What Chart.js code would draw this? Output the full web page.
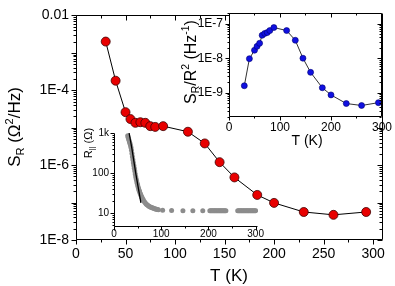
<!DOCTYPE html>
<html>
<head>
<meta charset="utf-8">
<script src="https://cdn.jsdelivr.net/npm/chart.js@4/dist/chart.umd.min.js"></script>
<style>
body { margin: 0; background: #fff; }
#wrap { position: relative; width: 395px; height: 286px; }
canvas { position: absolute; left: 0; top: 0; }
</style>
</head>
<body>
<div id="wrap">
<canvas id="mainChart" width="395" height="286"></canvas>
<canvas id="resChart" width="395" height="286"></canvas>
<canvas id="normChart" width="395" height="286"></canvas>
</div>
<script>
// temperatures (K), same for main plot and top inset
const tempK = [30, 40, 50, 55, 60, 65, 70, 75, 80, 88, 113, 130, 145, 160, 183, 200, 230, 260, 293];
// S_R (Ohm^2/Hz)
const noiseSR = [2.0e-3, 1.8e-4, 2.6e-5, 1.7e-5, 1.35e-5, 1.4e-5, 1.35e-5, 1.1e-5, 1.05e-5, 1.1e-5,
                 7.8e-6, 3.8e-6, 1.2e-6, 4.7e-7, 1.6e-7, 9.8e-8, 5.6e-8, 4.7e-8, 5.6e-8];
// S_R/R^2 (1/Hz), top inset
const normSR = [1.6e-9, 9.7e-9, 1.7e-8, 2.2e-8, 2.7e-8, 4.6e-8, 5.2e-8, 5.5e-8, 6.3e-8, 7.7e-8,
                6.3e-8, 3.3e-8, 1.0e-8, 3.9e-9, 1.4e-9, 8.7e-10, 4.9e-10, 4.3e-10, 5.2e-10];

// R_|| (Ohm) vs T, bottom inset (grey points)
const resT = [29, 30, 31, 32, 33, 34, 35, 36, 37, 38, 39, 40, 41, 42, 43, 44, 45, 46, 47, 48, 49, 50,
              51, 52, 53, 54, 55, 56, 57, 58, 59, 60, 62, 64, 66, 68, 70, 72, 74, 76, 78, 80, 82, 84,
              86, 88, 90, 92, 94,
              103, 122, 146, 167, 188,
              203, 205, 207, 209, 211, 213, 215, 217, 219, 221, 223, 225, 227, 229, 231, 233, 235, 237,
              262, 264, 266, 268, 270, 272, 274, 276, 278, 280, 282, 284, 286, 288, 290, 292, 294, 296, 298, 300];
const resR = [851, 776, 708, 646, 589, 537, 490, 437, 372, 309, 257, 214, 182, 155, 132, 112, 95, 81, 71, 63, 56, 50,
              45, 41, 37, 35, 32, 30, 28, 26, 24.5, 23.4, 21.4, 19.5, 18.2, 17, 16.2, 15.5, 14.8, 14.4, 14.1, 13.8, 13.5, 13.2,
              12.9, 12.6, 12.4, 12.3, 12.2,
              11.8, 11.6, 11.5, 11.5, 11.5,
              11.5, 11.5, 11.5, 11.5, 11.5, 11.5, 11.5, 11.5, 11.5, 11.5, 11.5, 11.5, 11.5, 11.5, 11.5, 11.5, 11.5, 11.5,
              11.5, 11.5, 11.5, 11.5, 11.5, 11.5, 11.5, 11.5, 11.5, 11.5, 11.5, 11.5, 11.5, 11.5, 11.5, 11.5, 11.5, 11.5, 11.5, 11.5];
// fit curve over the steep part
const fitT = [32, 38, 46, 57];
const fitR = [1000, 400, 100, 18];

// tick labels
const mainXTicks = [0, 50, 100, 150, 200, 250, 300];
const mainXLabels = ['0', '50', '100', '150', '200', '250', '300'];
const mainYTicks = [1e-8, 1e-6, 1e-4, 1e-2];
const mainYLabels = ['1E-8', '1E-6', '1E-4', '0.01'];
const normXTicks = [0, 100, 200, 300];
const normXLabels = ['0', '100', '200', '300'];
const normYTicks = [1e-9, 1e-8, 1e-7];
const normYLabels = ['1E-9', '1E-8', '1E-7'];
const resXTicks = [0, 100, 200, 300];
const resXLabels = ['0', '100', '200', '300'];
const resYTicks = [10, 100, 1000];
const resYLabels = ['10', '100', '1k'];

const FONT = "'Liberation Sans', Arial, Helvetica, sans-serif";

function logMinors(lo, hi) {
    const out = [];
    for (let n = -11; n <= 4; n++) {
        for (let k = 2; k <= 9; k++) {
            const v = k * Math.pow(10, n);
            if (v >= lo && v <= hi) out.push(v);
        }
    }
    return out;
}
function logMajors(lo, hi) {
    const out = [];
    for (let n = -11; n <= 4; n++) {
        const v = Math.pow(10, n);
        if (v >= lo * 0.999 && v <= hi * 1.001) out.push(v);
    }
    return out;
}

// frame, tick marks and rich-text titles for each chart
const decor = {
    mainChart: {
        box: true, fill: false, major: 5, minor: 3,
        xMajor: [0, 50, 100, 150, 200, 250, 300], xMinor: [25, 75, 125, 175, 225, 275],
        yMajor: logMajors(1e-8, 1e-2), yMinor: logMinors(1e-8, 1e-2),
        titles: [
            { x: 14, y: 127, rot: true, size: 17, segs: [['S', 0], ['R', -1], [' (\u03A9', 0], ['2', 1], ['/Hz)', 0]] },
            { x: 229, y: 275, rot: false, size: 17, segs: [['T (K)', 0]] }
        ]
    },
    normChart: {
        box: true, fill: true, major: 4, minor: 2,
        xMajor: [0, 100, 200, 300], xMinor: [50, 150, 250],
        yMajor: logMajors(2e-10, 2e-7), yMinor: logMinors(2e-10, 2e-7),
        titles: [
            { x: 190, y: 62, rot: true, size: 16, segs: [['S', 0], ['R', -1], ['/R', 0], ['2', 1], [' (Hz', 0], ['-1', 1], [')', 0]] },
            { x: 307, y: 140, rot: false, size: 14, segs: [['T (K)', 0]] }
        ]
    },
    resChart: {
        box: false, fill: false, major: 4, minor: 2,
        xMajor: [0, 100, 200, 300], xMinor: [50, 150, 250],
        yMajor: logMajors(4.5, 1000), yMinor: logMinors(4.5, 1000),
        titles: [
            { x: 88, y: 143, rot: true, size: 11, segs: [['R', 0], ['||', -1], [' (\u03A9)', 0]] }
        ]
    }
};

function richText(ctx, t) {
    const sub = 0.65;
    ctx.save();
    ctx.translate(t.x, t.y);
    if (t.rot) ctx.rotate(-Math.PI / 2);
    let w = 0;
    t.segs.forEach(([s, k]) => {
        ctx.font = (k ? t.size * sub : t.size) + 'px ' + FONT;
        w += ctx.measureText(s).width;
    });
    let cx = -w / 2;
    const base = t.size * 0.36;
    ctx.fillStyle = '#000';
    ctx.textAlign = 'left';
    ctx.textBaseline = 'alphabetic';
    t.segs.forEach(([s, k]) => {
        ctx.font = (k ? t.size * sub : t.size) + 'px ' + FONT;
        let dy = base;
        if (k < 0) dy += t.size * 0.22;
        if (k > 0) dy -= t.size * 0.42;
        ctx.fillText(s, cx, dy);
        cx += ctx.measureText(s).width;
    });
    ctx.restore();
}

const framePlugin = {
    id: 'frame',
    beforeDatasetsDraw(chart) {
        const d = decor[chart.canvas.id];
        if (!d || !d.fill) return;
        const a = chart.chartArea, ctx = chart.ctx;
        ctx.save();
        ctx.fillStyle = '#fff';
        ctx.fillRect(a.left, a.top, a.right - a.left, a.bottom - a.top);
        ctx.restore();
    },
    afterDraw(chart) {
        const d = decor[chart.canvas.id];
        if (!d) return;
        const { ctx, chartArea: a, scales: { x, y } } = chart;
        const L = Math.round(a.left) + 0.5, R = Math.round(a.right) - 0.5;
        const T = Math.round(a.top) + 0.5, B = Math.round(a.bottom) - 0.5;
        ctx.save();
        ctx.strokeStyle = '#000';
        ctx.lineWidth = 1;
        ctx.beginPath();
        if (d.box) {
            ctx.rect(L, T, R - L, B - T);
        } else {
            ctx.moveTo(L, T); ctx.lineTo(L, B); ctx.lineTo(R, B);
        }
        const xt = (vals, len) => vals.forEach(v => {
            const p = Math.round(x.getPixelForValue(v)) + 0.5;
            ctx.moveTo(p, B); ctx.lineTo(p, B + len);
            if (d.box) { ctx.moveTo(p, T); ctx.lineTo(p, T + len); }
        });
        const yt = (vals, len) => vals.forEach(v => {
            const p = Math.round(y.getPixelForValue(v)) + 0.5;
            ctx.moveTo(L, p); ctx.lineTo(L - len, p);
            if (d.box) { ctx.moveTo(R, p); ctx.lineTo(R - len, p); }
        });
        xt(d.xMajor, d.major); xt(d.xMinor, d.minor);
        yt(d.yMajor, d.major); yt(d.yMinor, d.minor);
        ctx.stroke();
        ctx.restore();
        d.titles.forEach(t => richText(ctx, t));
    }
};

function axis(opts) {
    return {
        type: opts.type, min: opts.min, max: opts.max,
        afterFit: s => { if (opts.w !== undefined) s.width = opts.w; if (opts.h !== undefined) s.height = opts.h; },
        afterBuildTicks: s => { s.ticks = opts.ticks.map(v => ({ value: v })); },
        grid: { display: false, drawTicks: false },
        border: { display: false },
        ticks: {
            padding: opts.pad, color: '#000', autoSkip: false, maxRotation: 0,
            font: { family: FONT, size: opts.size },
            callback: (v, i) => opts.labels[i]
        }
    };
}

function baseOptions(padding, scales) {
    return {
        responsive: false, animation: false, events: [],
        layout: { padding: padding },
        plugins: { legend: { display: false }, tooltip: { enabled: false } },
        scales: scales
    };
}

// main plot
new Chart(document.getElementById('mainChart'), {
    type: 'scatter',
    data: {
        datasets: [{
            data: tempK.map((t, i) => ({ x: t, y: noiseSR[i] })),
            showLine: true, borderColor: '#000', borderWidth: 1,
            pointRadius: 4.5, pointBackgroundColor: '#e80000',
            pointBorderColor: '#400000', pointBorderWidth: 0.8
        }]
    },
    options: baseOptions({ top: 10, right: 12, left: 0, bottom: 0 }, {
        x: axis({ type: 'linear', min: 0, max: 310, h: 46, ticks: mainXTicks, labels: mainXLabels, pad: 6, size: 14 }),
        y: axis({ type: 'logarithmic', min: 1e-8, max: 1e-2, w: 76, ticks: mainYTicks, labels: mainYLabels, pad: 7, size: 14 })
    }),
    plugins: [framePlugin]
});

// bottom-left inset: R vs T
new Chart(document.getElementById('resChart'), {
    type: 'scatter',
    data: {
        datasets: [{
            data: fitT.map((t, i) => ({ x: t, y: fitR[i] })),
            showLine: true, borderColor: '#000', borderWidth: 1.3, pointRadius: 0
        }, {
            data: resT.map((t, i) => ({ x: t, y: resR[i] })),
            showLine: false, pointRadius: 2.5,
            pointBackgroundColor: '#8c8c8c', pointBorderWidth: 0
        }]
    },
    options: baseOptions({ top: 133, right: 137, left: 0, bottom: 0 }, {
        x: axis({ type: 'linear', min: 0, max: 305, h: 59, ticks: resXTicks, labels: resXLabels, pad: 1, size: 10 }),
        y: axis({ type: 'logarithmic', min: 4.5, max: 1000, w: 114, ticks: resYTicks, labels: resYLabels, pad: 5, size: 10 })
    }),
    plugins: [framePlugin]
});

// top-right inset: S_R/R^2 vs T
new Chart(document.getElementById('normChart'), {
    type: 'scatter',
    data: {
        datasets: [{
            data: tempK.map((t, i) => ({ x: t, y: normSR[i] })),
            showLine: true, borderColor: '#333', borderWidth: 1,
            pointRadius: 3, pointBackgroundColor: '#1010e0',
            pointBorderColor: '#000070', pointBorderWidth: 0.6
        }]
    },
    options: baseOptions({ top: 10, right: 12, left: 0, bottom: 0 }, {
        x: axis({ type: 'linear', min: 0, max: 300, h: 169, ticks: normXTicks, labels: normXLabels, pad: 3, size: 12 }),
        y: axis({ type: 'logarithmic', min: 2e-10, max: 2e-7, w: 229, ticks: normYTicks, labels: normYLabels, pad: 6, size: 12 })
    }),
    plugins: [framePlugin]
});
</script>
</body>
</html>
